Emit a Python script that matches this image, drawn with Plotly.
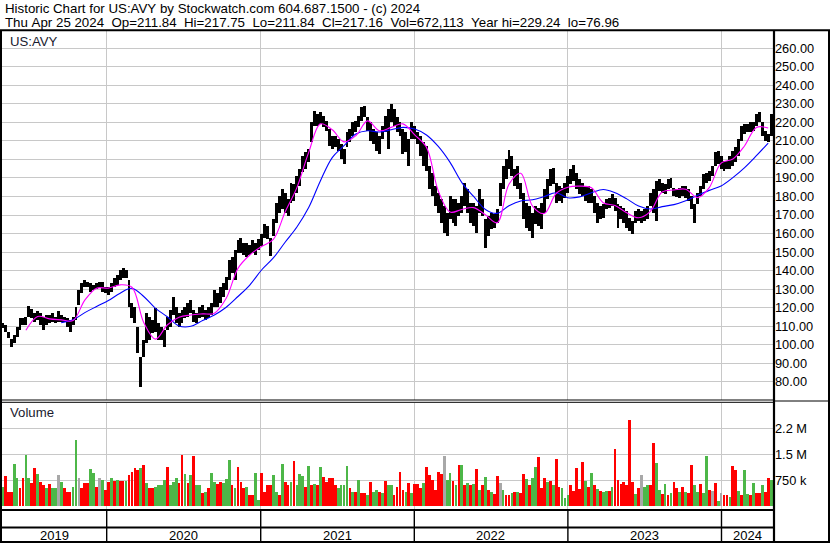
import pandas as pd
import plotly.graph_objects as go

W, H = 830, 543

title_line1 = "Historic Chart for US:AVY by Stockwatch.com 604.687.1500 - (c) 2024"
title_line2 = ("Thu Apr 25 2024  Op=211.84  Hi=217.75  Lo=211.84  Cl=217.16  "
               "Vol=672,113  Year hi=229.24  lo=76.96")
symbol_label = "US:AVY"
volume_label = "Volume"

# weekly bars
weeks = pd.date_range("2019-04-28", periods=262, freq="7D")

week_high = [
    111.6, 110.7, 107, 103, 105, 109.8, 114.3, 114.3, 115.2, 121,
    119, 117, 118, 117, 115.2, 116, 116, 117, 115.2, 118,
    116, 115.2, 114.3, 113.4, 115.2, 120.6, 129.6, 133.2, 135, 134,
    133.2, 132.3, 133.2, 134, 134, 131.4, 131.4, 133.2, 136, 137.7,
    140.4, 141.3, 140.3, 135, 122.3, 120.5, 109.7, 93.6, 102.5, 117,
    115.1, 113.3, 119.6, 111.5, 109.7, 108, 115.1, 118.7, 126, 120.5,
    117, 118.7, 120.5, 122.3, 124, 118.7, 117, 120.5, 121.4, 118.7,
    120.5, 122.3, 129.5, 127.7, 131.3, 133.1, 136.7, 145.7, 147.5, 151,
    156.5, 157.4, 154.7, 154.7, 153.8, 156.5, 154.7, 157, 160, 164.9,
    164, 157.7, 167.6, 176.7, 180.3, 183.9, 182, 178.5, 187.5, 186.6,
    191.1, 194.7, 202, 203.8, 205.6, 220, 226.4, 224.6, 225.5, 223.7,
    221, 216.4, 212.8, 212.8, 211, 208.3, 205.6, 214.6, 216.4, 220,
    221, 223.7, 228.2, 229, 222.8, 220, 216.4, 214.6, 212.8, 218.2,
    223.7, 227.3, 230, 227.3, 222.8, 220, 216.4, 214.6, 211, 220,
    218.2, 214.6, 212.8, 209.2, 207.4, 196.5, 192.9, 185.7, 182, 178.5,
    174.8, 171.2, 180.3, 178.5, 178.5, 176.7, 180.3, 187.5, 183.9, 176.7,
    176.7, 174.8, 183.9, 178.5, 167.6, 169.4, 171.2, 170.3, 173, 187.5,
    196.5, 200.2, 205, 202, 194.7, 196.5, 187.5, 182, 176.6, 174.8,
    171.2, 174.8, 173.9, 176.6, 183.8, 189.2, 194.6, 195.5, 187.4, 185.6,
    184.7, 187.4, 191, 194.6, 196.8, 192.8, 189.2, 187.4, 185.6, 185.6,
    183.8, 180.2, 176.6, 174.8, 175.7, 178.4, 179.3, 181.1, 179.3, 175.7,
    174.8, 173.9, 172, 168.5, 166.7, 172, 173, 172, 173, 174.8,
    182.1, 183.9, 188.4, 189.3, 187.5, 186.6, 189.3, 190.2, 184.8, 183.9,
    184.8, 185.7, 185.7, 183.9, 180.3, 175.8, 182.1, 185.7, 192, 192.9,
    193.8, 196.5, 203.8, 204.7, 202, 199.3, 199.3, 202, 204.7, 206.5,
    211, 218.2, 219.1, 219.1, 220, 220, 224.6, 225.8, 220, 215.5, 213.7, 224.6,
]
week_low = [
    109, 107, 103.5, 98.5, 100.8, 104.4, 108, 110.7, 110.7, 115.2,
    114.3, 112.5, 113.4, 110.7, 108, 110.7, 111.6, 112.5, 111.6, 112.5,
    112.5, 112, 109.8, 107.1, 110.7, 113.4, 121.5, 127.8, 131.4, 131,
    128.7, 129.6, 130, 130.5, 128.7, 127.8, 126.9, 128.7, 131.4, 132.3,
    135, 135.9, 135.8, 120.5, 114.2, 111.5, 95.4, 77, 93.6, 100.8,
    102.5, 106.1, 107, 102.5, 102.5, 99, 108, 109.7, 116, 111.5,
    109.7, 111.5, 114.2, 115.1, 117, 112.4, 111.5, 114.2, 115.1, 113.3,
    114.2, 116, 120.5, 120.5, 122.3, 125.9, 129.5, 135, 138.5, 135,
    149.3, 149.3, 148.4, 147.5, 148.4, 149.3, 148.4, 151, 153, 157.7,
    156.8, 147.7, 158.6, 165.8, 171.2, 173, 171.2, 169.4, 176.7, 177.6,
    182.1, 185.7, 193, 194.7, 198.4, 209.2, 218.2, 218.2, 219.1, 217.3,
    215.5, 207.4, 205.6, 206.5, 204.7, 200.2, 197.5, 206.5, 209.2, 212.8,
    214.6, 217.3, 221, 222.8, 215.5, 210.1, 208.3, 204.7, 203, 211,
    214.6, 205.6, 220, 218.2, 214.6, 212.8, 203, 203.8, 196.5, 211,
    211, 208.3, 202, 196.5, 193.8, 183.9, 180.3, 174.8, 171.2, 165.8,
    160.4, 158.6, 167.6, 165.8, 164, 169.4, 171.2, 174.8, 171.2, 165.8,
    164, 160.4, 171.2, 169.4, 152.2, 158.6, 162.2, 163.1, 165.8, 174.8,
    183.9, 189.3, 194.7, 191.1, 185.7, 183.9, 178.5, 168, 163, 161.3,
    157.7, 164.9, 164, 162.2, 171.2, 178.4, 185.6, 186.5, 176.6, 177.5,
    176.6, 179.3, 182, 186.5, 188.3, 183.8, 181.1, 180.2, 177.5, 176.6,
    176.6, 171.2, 165.8, 167.6, 168.5, 173, 173.9, 174.8, 172, 163.1,
    167.6, 165.8, 163.1, 161.3, 159.5, 165.8, 166.7, 165.8, 166.7, 167.6,
    174.8, 171.2, 166.7, 183, 182.1, 181.2, 183.9, 184.8, 180.3, 179.9,
    179.4, 180.3, 179.4, 177.6, 173, 165.8, 175.8, 180.3, 183.9, 187.5,
    188.4, 191.1, 196.5, 197.5, 194.7, 193.8, 194.7, 194.7, 196.5, 198.4,
    202, 210.1, 213.7, 214.6, 214.6, 215.5, 218.2, 220, 212.8, 210.1, 209.2, 212.8,
]

# moving averages, read every 4th week
ma_dates = weeks[::4]
ma_short = [
    None, None, 107.8, 115.2, 113.9, 113.4, 113.0, 124.0, 130.5, 130.5,
    132.3, 131.0, 112.0, 103.0, 110.6, 114.8, 116.0, 116.6, 117.0, 125.0,
    141.2, 148.4, 153.0, 156.8, 171.6, 184.8, 203.8, 219.2, 216.0, 209.5,
    212.8, 220.8, 215.5, 217.3, 219.2, 213.2, 206.5, 183.0, 171.6, 173.0,
    174.0, 170.1, 165.8, 186.6, 192.5, 174.8, 170.8, 181.6, 185.0, 185.6,
    184.7, 176.6, 175.1, 171.2, 168.5, 172.0, 182.4, 183.5, 183.9, 179.4,
    184.8, 198.0, 200.2, 207.4, 217.3, 217.0,
]
ma_long = [
    None, None, None, None, None, 111.9, 113.4, 117.3, 120.6, 123.8,
    127.8, 130.4, 126.0, 119.6, 115.1, 110.1, 109.9, 113.0, 116.0, 120.2,
    126.0, 132.2, 140.3, 146.8, 155.3, 163.5, 174.0, 188.5, 201.0, 207.4,
    213.7, 215.5, 214.8, 216.0, 217.3, 216.4, 213.2, 207.0, 198.4, 187.5,
    180.0, 173.0, 170.9, 175.0, 177.6, 178.2, 180.0, 182.0, 179.3, 179.8,
    182.0, 183.8, 182.0, 178.7, 174.8, 173.2, 174.5, 175.6, 177.7, 180.6,
    183.3, 185.7, 190.2, 195.6, 202.0, 208.8,
]

# weekly volume in thousands and direction (u = up, d = down, n = unchanged)
volume_k = [
    567, 875, 423, 423, 1240, 808, 520, 808, 1480, 808,
    663, 1115, 923, 711, 615, 519, 635, 519, 519, 904,
    711, 538, 423, 423, 567, 1913, 808, 519, 663, 663,
    1077, 952, 567, 808, 760, 471, 692, 808, 731, 760,
    731, 731, 731, 904, 1000, 1115, 1048, 1115, 1192, 663,
    519, 519, 567, 615, 615, 760, 1144, 615, 711, 808,
    663, 1480, 923, 663, 904, 1452, 615, 615, 375, 423,
    519, 952, 692, 635, 692, 663, 788, 1356, 615, 519,
    1144, 711, 538, 567, 327, 327, 971, 183, 952, 423,
    615, 615, 904, 423, 327, 1240, 692, 615, 692, 1308,
    615, 923, 875, 567, 1173, 615, 635, 615, 1144, 856,
    711, 808, 808, 615, 519, 615, 615, 1173, 519, 423,
    423, 760, 375, 375, 327, 711, 423, 471, 423, 375,
    731, 615, 615, 327, 567, 1000, 471, 423, 663, 375,
    635, 635, 519, 663, 1144, 904, 760, 471, 1000, 923,
    1452, 760, 952, 731, 615, 1211, 1192, 615, 663, 615,
    635, 1077, 471, 615, 856, 471, 423, 346, 885, 663,
    471, 327, 327, 375, 423, 404, 394, 923, 779, 615,
    827, 1144, 1433, 519, 827, 711, 731, 615, 1365, 567,
    519, 231, 327, 615, 442, 1115, 500, 1288, 731, 567,
    952, 615, 490, 442, 423, 442, 442, 567, 1654, 760,
    635, 692, 615, 2490, 692, 346, 519, 904, 567, 615,
    615, 1846, 1260, 471, 346, 635, 327, 375, 711, 519,
    423, 567, 404, 375, 1192, 615, 423, 635, 375, 1452,
    471, 442, 663, 154, 394, 327, 327, 279, 1163, 1048,
    442, 327, 1048, 346, 327, 663, 375, 375, 615, 404,
    827, 760,
]
volume_dir = [
    "u", "d", "d", "d", "u", "u", "d", "d", "u", "u",
    "d", "d", "u", "d", "d", "u", "d", "u", "u", "n",
    "u", "d", "d", "d", "u", "u", "n", "d", "d", "d",
    "u", "u", "d", "n", "u", "d", "d", "u", "d", "u",
    "d", "d", "u", "d", "d", "d", "d", "u", "d", "u",
    "d", "d", "u", "u", "u", "u", "d", "u", "u", "u",
    "d", "d", "u", "d", "u", "d", "u", "u", "d", "u",
    "d", "u", "u", "d", "d", "u", "u", "u", "d", "u",
    "d", "d", "d", "u", "d", "d", "u", "u", "d", "d",
    "d", "d", "u", "u", "d", "u", "d", "d", "u", "d",
    "u", "u", "u", "d", "u", "d", "u", "d", "u", "d",
    "d", "d", "d", "d", "u", "u", "u", "u", "d", "u",
    "d", "u", "d", "d", "u", "d", "u", "u", "d", "u",
    "d", "u", "u", "d", "d", "d", "d", "u", "d", "u",
    "d", "d", "d", "u", "d", "d", "d", "d", "d", "d",
    "n", "u", "u", "d", "u", "d", "u", "d", "u", "d",
    "u", "d", "u", "d", "u", "d", "u", "d", "d", "n",
    "u", "d", "d", "u", "d", "u", "d", "d", "u", "d",
    "u", "u", "d", "d", "d", "u", "d", "u", "d", "d",
    "u", "u", "u", "d", "d", "d", "d", "d", "u", "d",
    "u", "d", "u", "d", "u", "u", "d", "u", "d", "d",
    "d", "d", "d", "d", "d", "u", "d", "n", "u", "u",
    "d", "d", "u", "u", "d", "u", "d", "u", "d", "d",
    "u", "d", "u", "d", "d", "u", "u", "d", "u", "u",
    "d", "n", "d", "u", "n", "d", "d", "u", "d", "d",
    "u", "d", "u", "u", "d", "u", "d", "d", "u", "d",
    "d", "u",
]

price_ticks = list(range(80, 261, 10))
price_tick_text = [f"{v:.2f}" for v in price_ticks]
volume_ticks = [750000, 1500000, 2250000]
volume_tick_text = ["750 k", "1.5 M", "2.2 M"]
year_starts = ["2020-01-01", "2021-01-01", "2022-01-01", "2023-01-01", "2024-01-01"]
year_labels = ["2019", "2020", "2021", "2022", "2023", "2024"]
year_label_dates = ["2019-08-29", "2020-07-02", "2021-07-02", "2022-07-02", "2023-07-02", "2024-03-02"]

FONT = "Liberation Sans, Arial, sans-serif"
DAY_MS = 86400000
dir_colors = {"u": "#4db748", "d": "#ff0000", "n": "#a8a8a8"}

def px(x):
    return x / W

def py(y):
    return 1 - y / H

x_range = ["2019-04-27 05:00", "2024-05-04 19:00"]

fig = go.Figure()

fig.add_trace(go.Bar(
    x=weeks, y=[h - l for h, l in zip(week_high, week_low)], base=week_low,
    width=7.0 * DAY_MS, marker=dict(color="#000000", line=dict(width=0)),
    xaxis="x", yaxis="y", hoverinfo="skip", showlegend=False,
))
fig.add_trace(go.Scatter(
    x=ma_dates, y=ma_long, mode="lines", line=dict(color="#0000ff", width=1.1, shape="spline"),
    xaxis="x", yaxis="y", connectgaps=False, showlegend=False,
))
fig.add_trace(go.Scatter(
    x=ma_dates, y=ma_short, mode="lines", line=dict(color="#ff00ff", width=1.1, shape="spline"),
    xaxis="x", yaxis="y", connectgaps=False, showlegend=False,
))
fig.add_trace(go.Bar(
    x=weeks, y=[v * 1000 for v in volume_k],
    width=6.6 * DAY_MS,
    marker=dict(color=[dir_colors[d] for d in volume_dir], line=dict(width=0)),
    xaxis="x2", yaxis="y2", showlegend=False,
))

grid = "#c8c8c8"
axis_font = dict(family=FONT, size=12.8, color="#000000")

fig.update_layout(
    width=W, height=H,
    margin=dict(l=0, r=0, t=0, b=0),
    paper_bgcolor="white", plot_bgcolor="white",
    showlegend=False, bargap=0,
    xaxis=dict(domain=[px(2), px(774)], range=x_range, type="date",
               tickvals=year_starts, showticklabels=False, ticks="",
               showgrid=True, gridcolor=grid, gridwidth=1, zeroline=False,
               anchor="y", fixedrange=True),
    xaxis2=dict(domain=[px(2), px(774)], range=x_range, type="date", matches="x",
                tickvals=year_starts, showticklabels=False, ticks="",
                showgrid=True, gridcolor=grid, gridwidth=1, zeroline=False,
                anchor="y2", fixedrange=True),
    yaxis=dict(domain=[py(400), py(31)], range=[70.12, 269.34], side="right",
               tickvals=price_ticks, ticktext=price_tick_text, ticks="",
               showgrid=True, gridcolor=grid, gridwidth=1, zeroline=False,
               tickfont=axis_font, anchor="x", fixedrange=True),
    yaxis2=dict(domain=[py(509.5), py(402.5)], range=[-92000, 3008000], side="right",
                tickvals=volume_ticks, ticktext=volume_tick_text, ticks="",
                showgrid=True, gridcolor=grid, gridwidth=1, zeroline=False,
                tickfont=axis_font, anchor="x2", fixedrange=True),
)

shapes = []
def hline(y, x0, x1, w=1):
    shapes.append(dict(type="line", xref="paper", yref="paper", x0=px(x0), x1=px(x1),
                       y0=py(y), y1=py(y), line=dict(color="black", width=w)))
def vline(x, y0, y1, w=1):
    shapes.append(dict(type="line", xref="paper", yref="paper", x0=px(x), x1=px(x),
                       y0=py(y0), y1=py(y1), line=dict(color="black", width=w)))

hline(30.2, 0, 830, 2)
vline(1, 30, 543, 2)
vline(774, 30, 543, 2.2)
vline(829, 30, 543, 2)
hline(400, 0, 774, 1)
hline(402.3, 0, 774, 1)
hline(401, 774, 830, 1)
hline(510, 0, 774, 2)
hline(527.5, 0, 774, 2)
hline(542, 0, 830, 2)
for d in year_starts:
    shapes.append(dict(type="line", xref="x", yref="paper", x0=d, x1=d,
                       y0=py(510), y1=py(542), line=dict(color="black", width=1.4)))
fig.update_layout(shapes=shapes)

def nb(s):
    return s.replace(" ", "\u00a0")

annotations = [
    dict(text=nb(title_line1), x=px(3), y=py(9), xanchor="left", yanchor="middle",
         font=dict(family=FONT, size=13.3, color="black")),
    dict(text=nb(title_line2), x=px(3), y=py(22), xanchor="left", yanchor="middle",
         font=dict(family=FONT, size=13.3, color="black")),
    dict(text=symbol_label, x=px(8), y=py(41.5), xanchor="left", yanchor="middle",
         font=dict(family=FONT, size=13.2, color="#1a1a2e")),
    dict(text=volume_label, x=px(8), y=py(413), xanchor="left", yanchor="middle",
         font=dict(family=FONT, size=13.2, color="#1a1a2e")),
]
for lab, d in zip(year_labels, year_label_dates):
    annotations.append(dict(text=lab, x=d, xref="x", y=py(535), yref="paper",
                            xanchor="center", yanchor="middle", showarrow=False,
                            font=dict(family=FONT, size=13, color="black")))
for a in annotations:
    a.setdefault("xref", "paper")
    a.setdefault("yref", "paper")
    a["showarrow"] = False
fig.update_layout(annotations=annotations)

fig.write_html(
    "out.html",
    config={"displayModeBar": False, "staticPlot": True},
    post_script="document.body.style.margin='0';document.body.style.overflow='hidden';",
)
